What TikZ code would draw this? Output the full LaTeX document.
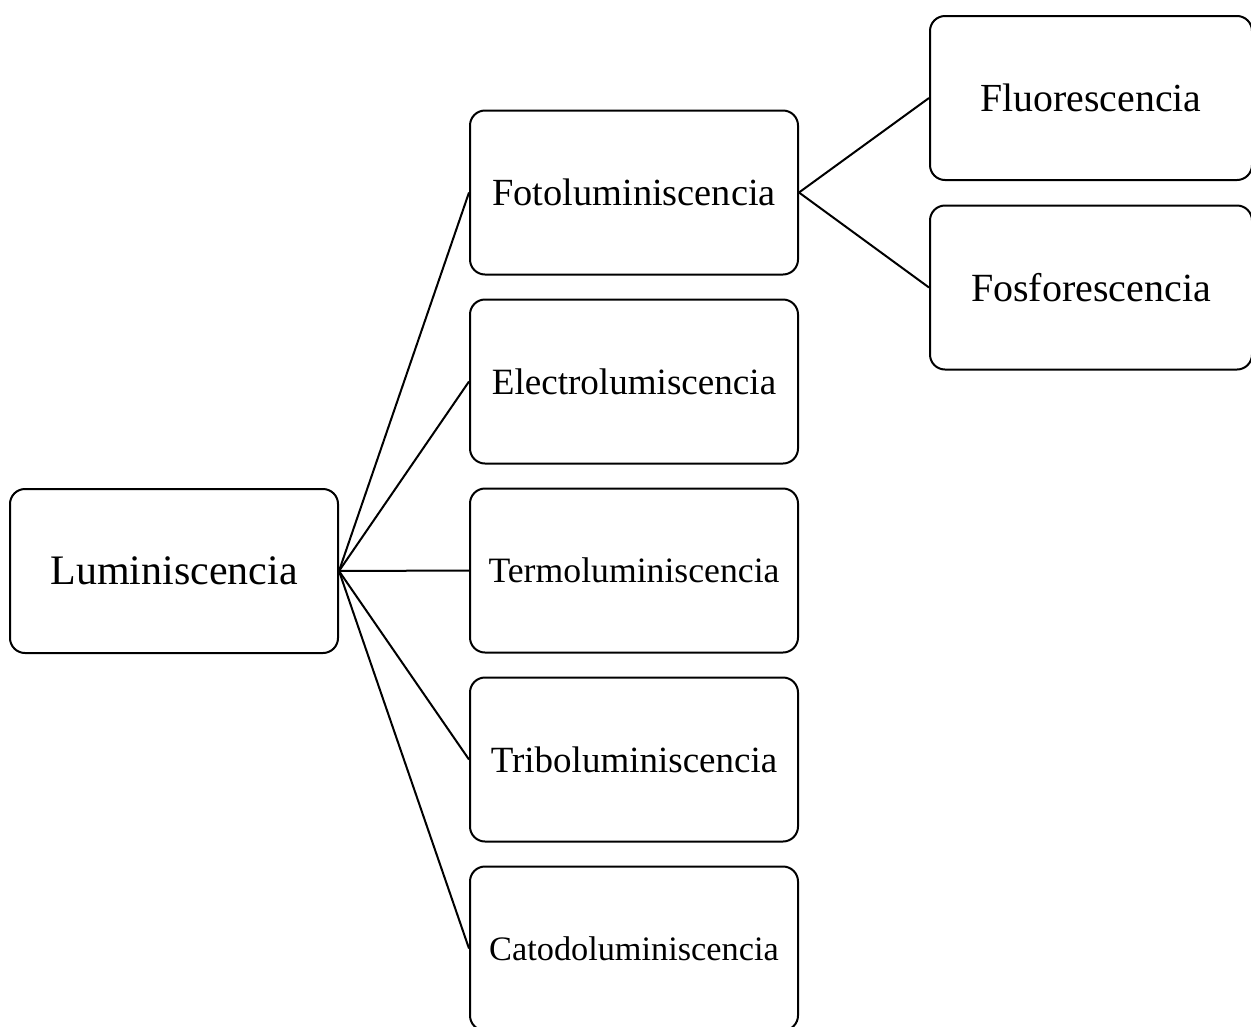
\documentclass[tikz,border=0pt]{standalone}
\usepackage{fontspec}
\setmainfont{Liberation Serif}
\begin{document}
\begin{tikzpicture}[x=1pt,y=-1pt,
  box/.style={draw=black, line width=2pt, rounded corners=15pt, fill=white,
    minimum width=328pt, minimum height=164pt, inner sep=0pt, text=black},
  rbox/.style={box, minimum width=322pt},
  link/.style={draw=black, line width=2pt}]
\useasboundingbox (0,0) rectangle (1251,1026);
\node[box] (lum) at (174,571) {\fontsize{42}{50}\selectfont Luminiscencia};
\node[box] (foto) at (634,192.5) {\fontsize{38.4}{46}\selectfont Fotoluminiscencia};
\node[box] (elec) at (634,381.5) {\fontsize{37.1}{44}\selectfont Electrolumiscencia};
\node[box] (term) at (634,570.5) {\fontsize{35.7}{43}\selectfont Termoluminiscencia};
\node[box] (trib) at (634,759.5) {\fontsize{37}{44}\selectfont Triboluminiscencia};
\node[box] (cato) at (634,948.5) {\fontsize{34.3}{41}\selectfont Catodoluminiscencia};
\node[rbox] (fluo) at (1091,98) {\fontsize{39.8}{48}\selectfont Fluorescencia};
\node[rbox] (fosf) at (1091,287.5) {\fontsize{40}{48}\selectfont Fosforescencia};
\draw[link] (lum.east) -- (foto.west);
\draw[link] (lum.east) -- (elec.west);
\draw[link] (lum.east) -- (term.west);
\draw[link] (lum.east) -- (trib.west);
\draw[link] (lum.east) -- (cato.west);
\draw[link] (foto.east) -- (fluo.west);
\draw[link] (foto.east) -- (fosf.west);
\end{tikzpicture}
\end{document}
